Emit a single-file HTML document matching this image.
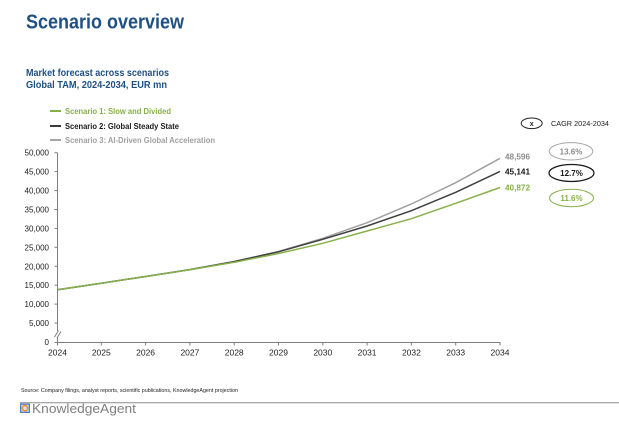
<!DOCTYPE html>
<html><head><meta charset="utf-8"><style>
html,body{margin:0;padding:0;background:#fff;}
svg{display:block;}
text{font-family:"Liberation Sans",sans-serif;}
</style></head><body>
<svg width="619" height="425" viewBox="0 0 619 425" xmlns="http://www.w3.org/2000/svg">
<rect width="619" height="425" fill="#fff"/>
<!-- Title -->
<text x="26" y="28.5" font-size="20" font-weight="bold" fill="#1f5082" textLength="158" lengthAdjust="spacingAndGlyphs">Scenario overview</text>
<text x="26" y="76" font-size="10.5" font-weight="bold" fill="#1f5082" textLength="143" lengthAdjust="spacingAndGlyphs">Market forecast across scenarios</text>
<text x="26" y="88" font-size="10.5" font-weight="bold" fill="#1f5082" textLength="141" lengthAdjust="spacingAndGlyphs">Global TAM, 2024-2034, EUR mn</text>

<!-- Legend -->
<line x1="50" y1="111" x2="61" y2="111" stroke="#86b14a" stroke-width="2"/>
<text x="65" y="114" font-size="8" font-weight="bold" fill="#86b14a" textLength="106" lengthAdjust="spacingAndGlyphs">Scenario 1: Slow and Divided</text>
<line x1="50" y1="126" x2="61" y2="126" stroke="#3a3a3a" stroke-width="2"/>
<text x="65" y="129" font-size="8" font-weight="bold" fill="#1a1a1a" textLength="114" lengthAdjust="spacingAndGlyphs">Scenario 2: Global Steady State</text>
<line x1="50" y1="140" x2="61" y2="140" stroke="#a6a6a6" stroke-width="2"/>
<text x="65" y="143" font-size="8" font-weight="bold" fill="#a0a0a0" textLength="150" lengthAdjust="spacingAndGlyphs">Scenario 3: AI-Driven Global Acceleration</text>

<!-- Y axis labels -->
<g font-size="8" fill="#222" text-anchor="end">
<text x="49" y="155.7">50,000</text>
<text x="49" y="174.6">45,000</text>
<text x="49" y="193.6">40,000</text>
<text x="49" y="212.5">35,000</text>
<text x="49" y="231.4">30,000</text>
<text x="49" y="250.3">25,000</text>
<text x="49" y="269.3">20,000</text>
<text x="49" y="288.2">15,000</text>
<text x="49" y="307.1">10,000</text>
<text x="49" y="326.1">5,000</text>
<text x="49" y="345">0</text>
</g>
<!-- Axes -->
<g stroke="#7f7f7f" stroke-width="1">
<line x1="57.5" y1="152.7" x2="57.5" y2="342.5"/>
<line x1="57" y1="342.5" x2="500.5" y2="342.5"/>
<line x1="54.5" y1="152.7" x2="57.5" y2="152.7"/>
<line x1="54.5" y1="171.6" x2="57.5" y2="171.6"/>
<line x1="54.5" y1="190.6" x2="57.5" y2="190.6"/>
<line x1="54.5" y1="209.5" x2="57.5" y2="209.5"/>
<line x1="54.5" y1="228.4" x2="57.5" y2="228.4"/>
<line x1="54.5" y1="247.3" x2="57.5" y2="247.3"/>
<line x1="54.5" y1="266.3" x2="57.5" y2="266.3"/>
<line x1="54.5" y1="285.2" x2="57.5" y2="285.2"/>
<line x1="54.5" y1="304.1" x2="57.5" y2="304.1"/>
<line x1="54.5" y1="323.1" x2="57.5" y2="323.1"/>
<line x1="54.5" y1="342.5" x2="57.5" y2="342.5"/>
<line x1="57.5" y1="342.5" x2="57.5" y2="345.5"/>
<line x1="101.3" y1="342.5" x2="101.3" y2="345.5"/>
<line x1="145.6" y1="342.5" x2="145.6" y2="345.5"/>
<line x1="189.9" y1="342.5" x2="189.9" y2="345.5"/>
<line x1="234.2" y1="342.5" x2="234.2" y2="345.5"/>
<line x1="278.5" y1="342.5" x2="278.5" y2="345.5"/>
<line x1="322.8" y1="342.5" x2="322.8" y2="345.5"/>
<line x1="367.1" y1="342.5" x2="367.1" y2="345.5"/>
<line x1="411.4" y1="342.5" x2="411.4" y2="345.5"/>
<line x1="455.7" y1="342.5" x2="455.7" y2="345.5"/>
<line x1="500" y1="342.5" x2="500" y2="345.5"/>
</g>
<!-- break mark -->
<rect x="54" y="331" width="7" height="6" fill="#fff"/>
<line x1="54.5" y1="337" x2="58.5" y2="330.5" stroke="#7f7f7f" stroke-width="1"/>
<line x1="57" y1="338" x2="61" y2="331.5" stroke="#7f7f7f" stroke-width="1"/>

<!-- X labels -->
<g font-size="8.5" fill="#222" text-anchor="middle">
<text x="57.5" y="355.5">2024</text>
<text x="101.3" y="355.5">2025</text>
<text x="145.6" y="355.5">2026</text>
<text x="189.9" y="355.5">2027</text>
<text x="234.2" y="355.5">2028</text>
<text x="278.5" y="355.5">2029</text>
<text x="322.8" y="355.5">2030</text>
<text x="367.1" y="355.5">2031</text>
<text x="411.4" y="355.5">2032</text>
<text x="455.7" y="355.5">2033</text>
<text x="500" y="355.5">2034</text>
</g>

<!-- Series -->
<polyline fill="none" stroke="#a0a0a0" stroke-width="1.5" points="57.5,289.7 101.3,283.2 145.6,276.5 189.9,269.6 234.2,261.5 278.5,251.5 322.8,238.3 367.1,222.7 411.4,204 455.7,182.7 500,158.3"/>
<polyline fill="none" stroke="#3f3f3f" stroke-width="1.5" points="57.5,289.7 101.3,283.2 145.6,276.5 189.9,269.6 234.2,261.6 278.5,251.8 322.8,239.3 367.1,226 411.4,210.7 455.7,192.3 500,171.4"/>
<polyline fill="none" stroke="#86b14a" stroke-width="1.5" points="57.5,289.7 101.3,283.2 145.6,276.5 189.9,269.8 234.2,262.3 278.5,253.5 322.8,243.3 367.1,231 411.4,218.7 455.7,203.3 500,187.5"/>

<!-- End labels -->
<g font-size="8" font-weight="bold">
<text x="505" y="159.5" fill="#8c8c8c" textLength="25" lengthAdjust="spacingAndGlyphs">48,596</text>
<text x="505" y="174.5" fill="#1a1a1a" textLength="25" lengthAdjust="spacingAndGlyphs">45,141</text>
<text x="505" y="190.3" fill="#86b14a" textLength="25" lengthAdjust="spacingAndGlyphs">40,872</text>
</g>

<!-- CAGR legend -->
<ellipse cx="531.7" cy="123.3" rx="10.5" ry="5.3" fill="#fff" stroke="#222" stroke-width="1"/>
<text x="531.7" y="126" font-size="7" font-weight="bold" fill="#222" text-anchor="middle">x</text>
<text x="551" y="126" font-size="7" fill="#222" textLength="58" lengthAdjust="spacingAndGlyphs">CAGR 2024-2034</text>

<ellipse cx="571" cy="151.3" rx="21.8" ry="8.7" fill="#fff" stroke="#a6a6a6" stroke-width="1"/>
<text x="571" y="154.3" font-size="8" font-weight="bold" fill="#8c8c8c" text-anchor="middle">13.6%</text>
<ellipse cx="571.5" cy="173" rx="22.5" ry="8.5" fill="#fff" stroke="#1a1a1a" stroke-width="1.3"/>
<text x="571.5" y="176" font-size="8" font-weight="bold" fill="#1a1a1a" text-anchor="middle">12.7%</text>
<ellipse cx="571.5" cy="198" rx="22" ry="8.7" fill="#fff" stroke="#86b14a" stroke-width="1"/>
<text x="571.5" y="201" font-size="8" font-weight="bold" fill="#86b14a" text-anchor="middle">11.6%</text>

<!-- Footer -->
<text x="21" y="392" font-size="5.5" fill="#222" textLength="217" lengthAdjust="spacingAndGlyphs">Source: Company filings, analyst reports, scientific publications, KnowledgeAgent projection</text>
<line x1="20" y1="402.7" x2="619" y2="402.7" stroke="#8c8c8c" stroke-width="1"/>
<rect x="20" y="403.5" width="10" height="9.5" fill="#4f7fc0"/>
<rect x="21.3" y="404.8" width="7.4" height="6.9" fill="#d7e4f4"/>
<circle cx="25" cy="408.2" r="2.6" fill="none" stroke="#e8962a" stroke-width="1.6"/>
<text x="32" y="413" font-size="12.5" fill="#7f7f7f" textLength="104" lengthAdjust="spacingAndGlyphs">KnowledgeAgent</text>
</svg>
</body></html>
